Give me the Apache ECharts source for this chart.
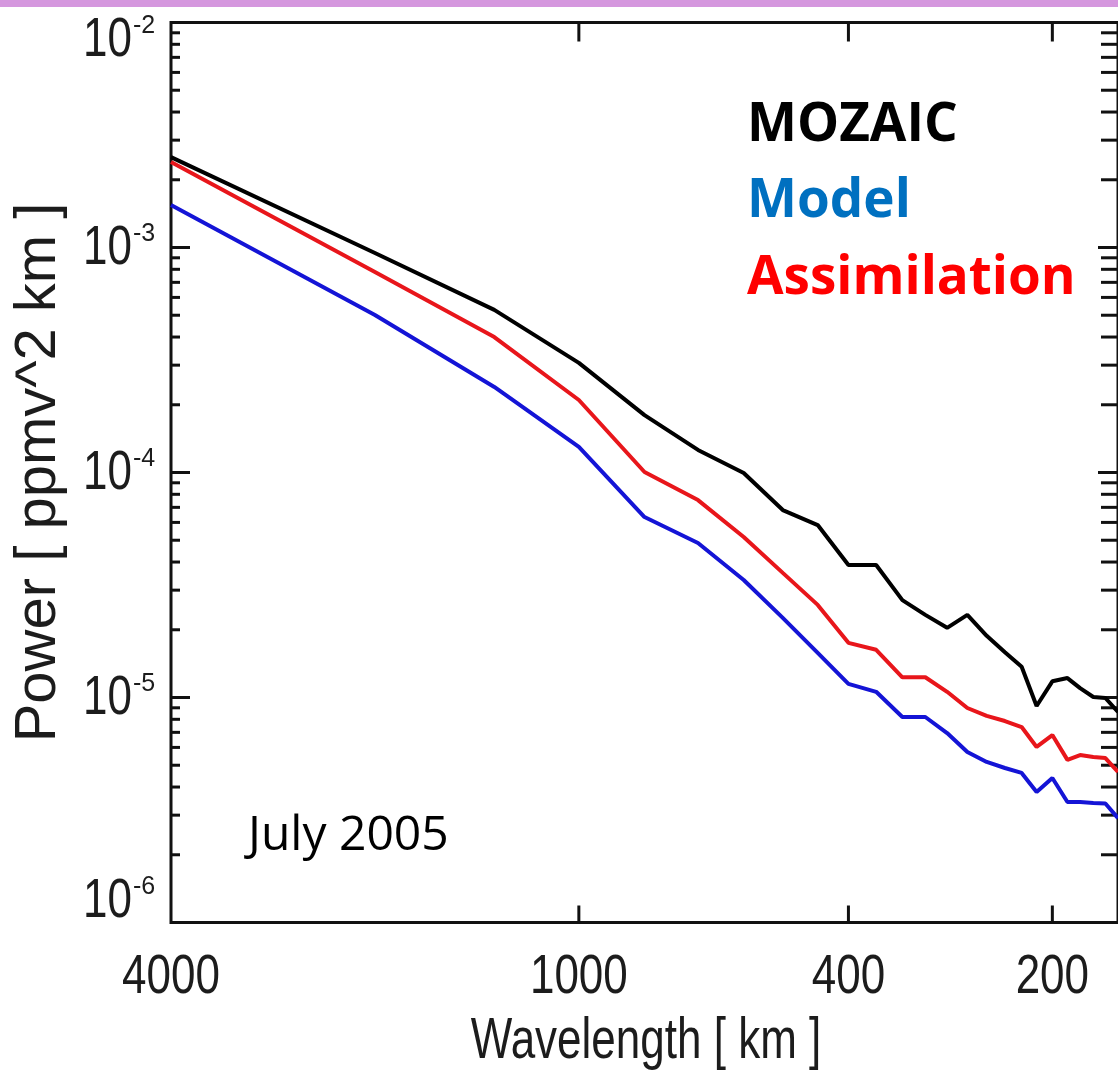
<!DOCTYPE html>
<html><head><meta charset="utf-8">
<script src="https://cdn.jsdelivr.net/npm/echarts@6/dist/echarts.min.js"></script>
<style>html,body{margin:0;padding:0;background:#fff}#c{width:1118px;height:1076px}</style>
</head><body><div id="c"></div>
<script>
// Wavelength bins [km] (4000/k)
const wavelengths = [4000, 2000, 1333, 1000, 800, 667, 571, 500, 444, 400, 364, 333, 308, 286, 267, 250, 235, 222, 211, 200, 190, 182, 174, 167, 160];
// Power [ppmv^2 km]
const mozaic = [2.52e-3, 9.45e-4, 5.28e-4, 3.07e-4, 1.80e-4, 1.26e-4, 9.95e-5, 6.81e-5, 5.84e-5, 3.88e-5, 3.88e-5, 2.71e-5, 2.33e-5, 2.04e-5, 2.33e-5, 1.88e-5, 1.59e-5, 1.37e-5, 9.17e-6, 1.18e-5, 1.22e-5, 1.10e-5, 1.005e-5, 9.95e-6, 8.62e-6];
const model = [1.545e-3, 5.01e-4, 2.40e-4, 1.30e-4, 6.34e-5, 4.86e-5, 3.33e-5, 2.26e-5, 1.58e-5, 1.15e-5, 1.06e-5, 8.19e-6, 8.19e-6, 6.95e-6, 5.73e-6, 5.17e-6, 4.86e-6, 4.62e-6, 3.80e-6, 4.39e-6, 3.43e-6, 3.43e-6, 3.40e-6, 3.38e-6, 2.91e-6];
const assimilation = [2.40e-3, 7.78e-4, 4.00e-4, 2.10e-4, 1.005e-4, 7.54e-5, 5.17e-5, 3.58e-5, 2.58e-5, 1.75e-5, 1.63e-5, 1.23e-5, 1.23e-5, 1.06e-5, 8.98e-6, 8.28e-6, 7.86e-6, 7.39e-6, 6.03e-6, 6.81e-6, 5.28e-6, 5.55e-6, 5.44e-6, 5.38e-6, 4.67e-6];

const xTickValues = [4000, 1000, 400, 200];
const xTickLabels = ['4000', '1000', '400', '200'];
const yDecades = [1e-6, 1e-5, 1e-4, 1e-3, 1e-2];
const yMinorMultipliers = [2, 3, 4, 5, 6, 7, 8, 9];

const X_MIN = 160, X_MAX = 4000, Y_MIN = 1e-6, Y_MAX = 1e-2;
const AX_FONT = '"Liberation Sans", Arial, sans-serif';
const AX_COLOR = '#1c1c1c';
const STRETCH = 1.28;

function zip(xs, ys) { return xs.map((x, i) => [x, ys[i]]); }

const yTickData = [];
yDecades.forEach((d, i) => {
  yTickData.push([X_MAX, d, 1]);
  if (i < yDecades.length - 1) yMinorMultipliers.forEach(m => yTickData.push([X_MAX, d * m, 0]));
});
const xTickData = xTickValues.map((v, i) => [v, Y_MIN, i]);

const chart = echarts.init(document.getElementById('c'), null, {renderer: 'canvas'});
chart.setOption({
  animation: false,
  backgroundColor: '#fff',
  grid: {left: 171, top: 22.5, width: 951, height: 900, show: true, borderColor: '#111', borderWidth: 3, backgroundColor: 'transparent', containLabel: false},
  xAxis: {
    type: 'log', logBase: 10, inverse: true, min: X_MIN, max: X_MAX,
    axisLine: {show: false}, axisTick: {show: false}, axisLabel: {show: false}, splitLine: {show: false}, minorTick: {show: false}
  },
  yAxis: {
    type: 'log', logBase: 10, min: Y_MIN, max: Y_MAX,
    axisLine: {show: false}, axisTick: {show: false}, splitLine: {show: false}, axisLabel: {show: false},
    name: 'Power [ ppmv^2 km ]', nameLocation: 'middle', nameGap: 103, nameRotate: 90,
    nameTextStyle: {fontFamily: AX_FONT, fontSize: 58, color: AX_COLOR}
  },
  series: [
    {
      type: 'custom', name: 'yticks', silent: true, clip: false, z: 1,
      data: yTickData,
      renderItem: (params, api) => {
        const yv = api.value(1), major = api.value(2);
        const pL = api.coord([X_MAX, yv]), pR = api.coord([X_MIN, yv]);
        const lenL = major ? 19 : 9, lenR = major ? 20 : 17;
        const children = [
          {type: 'line', shape: {x1: pL[0], y1: pL[1], x2: pL[0] + lenL, y2: pL[1]}, style: {stroke: '#111', lineWidth: 3}},
          {type: 'line', shape: {x1: pR[0], y1: pR[1], x2: pR[0] - lenR, y2: pR[1]}, style: {stroke: '#111', lineWidth: 3}}
        ];
        if (major) {
          const exp = Math.round(Math.log10(yv));
          let cy = pL[1] + 1;
          if (yv === Y_MAX) cy = pL[1] + 18;
          if (yv === Y_MIN) cy = pL[1] - 21;
          children.push({type: 'text', x: pL[0] - 39, y: cy, scaleY: STRETCH,
            style: {text: '10', fontFamily: AX_FONT, fontSize: 44, fill: AX_COLOR, align: 'right', verticalAlign: 'middle'}});
          children.push({type: 'text', x: pL[0] - 38, y: cy - 14,
            style: {text: String(exp), fontFamily: AX_FONT, fontSize: 25, fill: AX_COLOR, align: 'left', verticalAlign: 'middle'}});
        }
        return {type: 'group', children};
      }
    },
    {
      type: 'custom', name: 'xticks', silent: true, clip: false, z: 1,
      data: xTickData,
      renderItem: (params, api) => {
        const xv = api.value(0), idx = api.value(2);
        const pB = api.coord([xv, Y_MIN]), pT = api.coord([xv, Y_MAX]);
        const children = [
          {type: 'text', x: pB[0], y: pB[1] + 55, scaleY: STRETCH,
            style: {text: xTickLabels[idx], fontFamily: AX_FONT, fontSize: 44, fill: AX_COLOR, align: 'center', verticalAlign: 'middle'}}
        ];
        if (xv !== X_MAX) {
          children.push({type: 'line', shape: {x1: pB[0], y1: pB[1], x2: pB[0], y2: pB[1] - 17}, style: {stroke: '#111', lineWidth: 3}});
          children.push({type: 'line', shape: {x1: pT[0], y1: pT[1], x2: pT[0], y2: pT[1] + 19}, style: {stroke: '#111', lineWidth: 3}});
        }
        return {type: 'group', children};
      }
    },
    {type: 'line', name: 'MOZAIC', data: zip(wavelengths, mozaic), showSymbol: false, symbol: 'none', lineStyle: {color: '#000', width: 4}, z: 3},
    {type: 'line', name: 'Assimilation', data: zip(wavelengths, assimilation), showSymbol: false, symbol: 'none', lineStyle: {color: '#e8161b', width: 4}, z: 3},
    {type: 'line', name: 'Model', data: zip(wavelengths, model), showSymbol: false, symbol: 'none', lineStyle: {color: '#1414d6', width: 4}, z: 3}
  ],
  graphic: [
    {type: 'rect', shape: {x: 0, y: 0, width: 1118, height: 7}, style: {fill: '#d597de'}},
    {type: 'text', x: 646, y: 1042, scaleY: 1.3, style: {text: 'Wavelength [ km ]', fontFamily: AX_FONT, fontSize: 44, fill: AX_COLOR, align: 'center', verticalAlign: 'middle'}},
    {type: 'text', x: 747, y: 126, style: {text: 'MOZAIC', fontFamily: '"Open Sans", sans-serif', fontWeight: 'bold', fontSize: 53, fill: '#000', verticalAlign: 'middle'}},
    {type: 'text', x: 747, y: 202, style: {text: 'Model', fontFamily: '"Open Sans", sans-serif', fontWeight: 'bold', fontSize: 53, fill: '#0070c0', verticalAlign: 'middle'}},
    {type: 'text', x: 747, y: 279, style: {text: 'Assimilation', fontFamily: '"Open Sans", sans-serif', fontWeight: 'bold', fontSize: 53, fill: '#ff0000', verticalAlign: 'middle'}},
    {type: 'text', x: 248, y: 836, style: {text: 'July 2005', fontFamily: '"Open Sans", sans-serif', fontSize: 48, fill: '#000', verticalAlign: 'middle'}}
  ]
});
</script></body></html>
